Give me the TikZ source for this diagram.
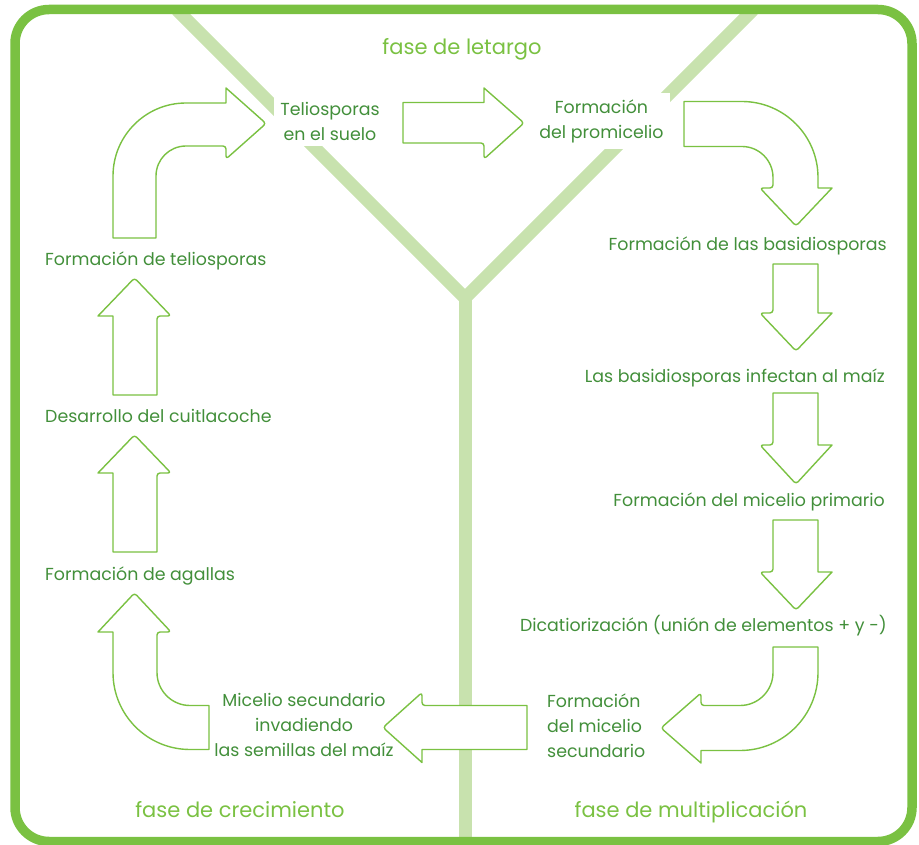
\documentclass[tikz,border=0pt]{standalone}
\usepackage{fontspec}
\setmainfont{Poppins}
\definecolor{bord}{RGB}{122,193,66}
\definecolor{ylin}{RGB}{200,226,174}
\definecolor{txt}{RGB}{66,143,58}
\definecolor{fase}{RGB}{122,193,66}
\begin{document}
\begin{tikzpicture}[x=1pt,y=-1pt,
  lbl/.style={text=txt,font=\fontsize{17.4}{25}\selectfont,inner sep=0pt},
  boxlbl/.style={lbl,fill=white,inner sep=6pt,align=center},
  faselbl/.style={text=fase,font=\fontsize{21}{26}\selectfont,inner sep=0pt,anchor=base},
  blockarrow/.style={draw=bord,line width=1.4pt,fill=white,line join=round},
  yline/.style={draw=ylin,line width=13pt}]
\useasboundingbox (0,0) rectangle (919,845);
% Y shaped phase separator
\coordinate (yv) at (465,298);
\coordinate (yl) at (177,10);
\coordinate (yr) at (753,10);
\coordinate (yb) at (465,841);
\draw[yline] (yl) -- (yv) -- (yr);
\draw[yline] (yv) -- (yb);
% frame
\draw[draw=bord,line width=9.5pt,rounded corners=34pt] (15,9.5) rectangle (912,841.5);
% texts
\node[boxlbl] (telio) at (330,121) {Teliosporas\\en el suelo};
\node[boxlbl] (promi) at (601.5,121) {Formación\\del promicelio};
\node[lbl,anchor=base east] (basid) at (887,251) {Formación de las basidiosporas};
\node[lbl,anchor=base east] (infec) at (885,382) {Las basidiosporas infectan al maíz};
\node[lbl,anchor=base east] (prim) at (885,506) {Formación del micelio primario};
\node[lbl,anchor=base east] (dicat) at (887,631) {Dicatiorización (unión de elementos + y -)};
\node[lbl,align=left,anchor=west] (msec) at (547,726) {Formación\\del micelio\\secundario};
\node[lbl,align=center] (invad) at (304,725) {Micelio secundario\\invadiendo\\las semillas del maíz};
\node[lbl,anchor=base west] (ftel) at (45,266) {Formación de teliosporas};
\node[lbl,anchor=base west] (desa) at (45,422) {Desarrollo del cuitlacoche};
\node[lbl,anchor=base west] (agal) at (45,580) {Formación de agallas};
\node[faselbl] (flet) at (462,55) {fase de letargo};
\node[faselbl] (fcre) at (240,817) {fase de crecimiento};
\node[faselbl] (fmul) at (691,817) {fase de multiplicación};
% block arrows
% top-left curved
\draw[blockarrow] (113,238) -- (113,176) .. controls (113,135.7) and (145.7,103) .. (186,103)
  -- (226,103) -- (226,88) [rounded corners=3pt] -- (266,123.5) -- (226,159) -- (226,146)
  [sharp corners] -- (186,146) .. controls (169.4,146) and (156,159.4) .. (156,176) -- (156,238) -- cycle;
% top middle straight
\draw[blockarrow] (403,102.5) -- (484,102.5) -- (484,88) [rounded corners=3pt] -- (524,123) -- (484,159) -- (484,143)
  [sharp corners] -- (403,143) -- cycle;
% top-right curved
\draw[blockarrow] (684,101.5) -- (742,101.5) .. controls (784,101.5) and (818,135.5) .. (818,177.5)
  -- (818,188) -- (832,188) [rounded corners=3pt] -- (796,226) -- (760,188) -- (773,188)
  [sharp corners] -- (773,177.5) .. controls (773,160.4) and (759.1,146.5) .. (742,146.5) -- (684,146.5) -- cycle;
% right column down arrows
\draw[blockarrow] (773,264) -- (818,264) -- (818,313) -- (832,313) [rounded corners=3pt] -- (796,351) -- (760,313) -- (773,313) [sharp corners] -- cycle;
\draw[blockarrow] (773,393) -- (818,393) -- (818,445) -- (832,445) [rounded corners=3pt] -- (796,484) -- (760,445) -- (773,445) [sharp corners] -- cycle;
\draw[blockarrow] (773,520) -- (818,520) -- (818,572) -- (832,572) [rounded corners=3pt] -- (796,610) -- (760,572) -- (773,572) [sharp corners] -- cycle;
% bottom-right curved
\draw[blockarrow] (773,647) -- (818,647) -- (818,672.5) .. controls (818,715.6) and (783.1,750.5) .. (740,750.5)
  -- (701,750.5) -- (701,763) [rounded corners=3pt] -- (661,728) -- (701,693) -- (701,705.5)
  [sharp corners] -- (740,705.5) .. controls (758.2,705.5) and (773,690.7) .. (773,672.5) -- cycle;
% bottom middle left
\draw[blockarrow] (527,705.5) -- (527,749.5) -- (422,749.5) -- (422,762.5) [rounded corners=3pt] -- (383,727.5) -- (422,692.5) -- (422,705.5) [sharp corners] -- cycle;
% bottom-left curved
\draw[blockarrow] (209,705.5) -- (209,749.5) -- (190,749.5) .. controls (147.5,749.5) and (113,715) .. (113,672.5)
  -- (113,632) -- (98,632) [rounded corners=3pt] -- (134.5,593) -- (171,632) -- (157,632)
  [sharp corners] -- (157,672.5) .. controls (157,690.7) and (171.8,705.5) .. (190,705.5) -- cycle;
% left column up arrows
\draw[blockarrow] (113,552) -- (113,473) -- (98,473) [rounded corners=3pt] -- (134.5,435) -- (171,473) -- (157,473) [sharp corners] -- (157,552) -- cycle;
\draw[blockarrow] (113,395) -- (113,316) -- (98,316) [rounded corners=3pt] -- (134.5,278) -- (171,316) -- (157,316) [sharp corners] -- (157,395) -- cycle;
\end{tikzpicture}
\end{document}
